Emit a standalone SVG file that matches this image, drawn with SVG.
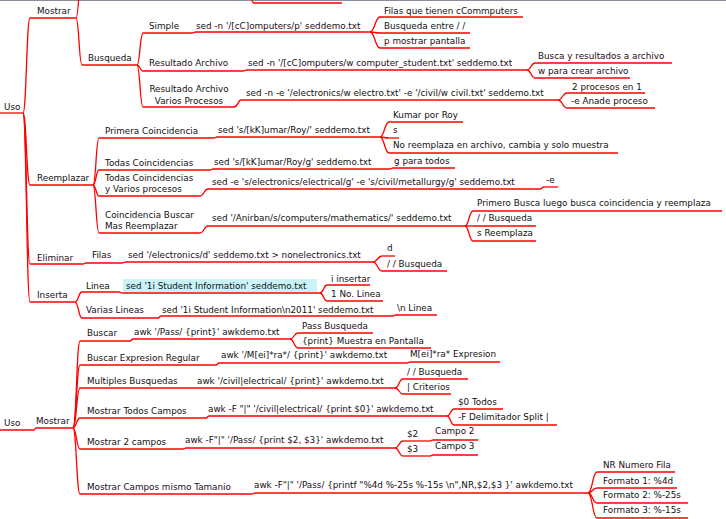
<svg xmlns="http://www.w3.org/2000/svg" width="726" height="519" viewBox="0 0 726 519">
<style>
text{font-family:"DejaVu Sans","Liberation Sans",sans-serif;font-size:8.8px;fill:#111}
.u,.e{fill:none;stroke:#f00;stroke-width:1.3}
.hl{fill:#c9f3f7}
</style>
<rect width="726" height="519" fill="#fff"/>
<line x1="0" y1="0.5" x2="726" y2="0.5" stroke="#8a8a98" stroke-width="1.2"/>
<g id="connectors">
<path class="e" d="M76 18C79 18 79 -30 82 -30"/>
<path class="e" d="M248 -8C251 -8 251 3 254 3H342"/>
<path class="e" d="M23 113C26.5 113 26.5 18 30 18"/>
<path class="e" d="M23 113C26.5 113 26.5 185 30 185"/>
<path class="e" d="M23 113C26.5 113 26.5 264 30 264"/>
<path class="e" d="M23 113C26.5 113 26.5 302 30 302"/>
<path class="e" d="M76 18C79 18 79 65 82 65"/>
<path class="e" d="M137 65C140 65 140 33 143 33"/>
<path class="e" d="M137 65C140 65 140 71 143 71"/>
<path class="e" d="M137 65C140 65 140 107 143 107"/>
<path class="e" d="M192 33C194 33 194 32 196 32"/>
<path class="e" d="M370 32C375 32 375 17 380 17"/>
<path class="e" d="M370 32C375 32 375 33 380 33"/>
<path class="e" d="M370 32C375 32 375 48 380 48"/>
<path class="e" d="M243 71C245 71 245 70 247 70"/>
<path class="e" d="M527 70C531 70 531 63 535 63"/>
<path class="e" d="M527 70C531 70 531 78 535 78"/>
<path class="e" d="M234 107C238 107 238 100 241 100"/>
<path class="e" d="M558 100C562.5 100 562.5 93 567 93"/>
<path class="e" d="M558 100C562.5 100 562.5 108 567 108"/>
<path class="e" d="M93 185C96 185 96 138 99 138"/>
<path class="e" d="M93 185C96 185 96 170 99 170"/>
<path class="e" d="M93 185C96 185 96 196 99 196"/>
<path class="e" d="M93 185C96 185 96 233 99 233"/>
<path class="e" d="M214 138C215.5 138 215.5 137 217 137"/>
<path class="e" d="M380 137C384.5 137 384.5 122 389 122"/>
<path class="e" d="M380 137C384.5 137 384.5 138 389 138"/>
<path class="e" d="M380 137C384.5 137 384.5 153 389 153"/>
<path class="e" d="M210 170C211.5 170 211.5 169 213 169"/>
<path class="e" d="M390 169C391.5 169 391.5 168 393 168"/>
<path class="e" d="M200 196C204 196 204 189 208 189"/>
<path class="e" d="M540 189C542 189 542 187 544 187"/>
<path class="e" d="M200 233C204 233 204 226 208 226"/>
<path class="e" d="M465 226C469 226 469 211 473 211"/>
<path class="e" d="M465 226C469 226 469 226 473 226"/>
<path class="e" d="M465 226C469 226 469 241 473 241"/>
<path class="e" d="M83 264C84.5 264 84.5 263 86 263"/>
<path class="e" d="M122 263C124 263 124 262 126 262"/>
<path class="e" d="M373 262C377.5 262 377.5 256 382 256"/>
<path class="e" d="M373 262C377.5 262 377.5 271 382 271"/>
<path class="e" d="M75 302C78.5 302 78.5 292 82 292"/>
<path class="e" d="M75 302C78.5 302 78.5 318 82 318"/>
<path class="e" d="M119 292C120.5 292 120.5 293 122 293"/>
<path class="e" d="M320 293C323.5 293 323.5 285 327 285"/>
<path class="e" d="M320 293C323.5 293 323.5 301 327 301"/>
<path class="e" d="M158 318C159.5 318 159.5 316 161 316"/>
<path class="e" d="M393 316C394.5 316 394.5 315 396 315"/>
<path class="e" d="M34 430C35 430 35 428 36 428"/>
<path class="e" d="M73 428C76.5 428 76.5 341 80 341"/>
<path class="e" d="M73 428C76.5 428 76.5 365 80 365"/>
<path class="e" d="M73 428C76.5 428 76.5 388 80 388"/>
<path class="e" d="M73 428C76.5 428 76.5 418 80 418"/>
<path class="e" d="M73 428C76.5 428 76.5 449 80 449"/>
<path class="e" d="M73 428C76.5 428 76.5 494 80 494"/>
<path class="e" d="M130 341C131.5 341 131.5 339 133 339"/>
<path class="e" d="M290 339C294 339 294 333 298 333"/>
<path class="e" d="M290 339C294 339 294 348 298 348"/>
<path class="e" d="M216 365C217.5 365 217.5 363 219 363"/>
<path class="e" d="M407 363C408.5 363 408.5 362 410 362"/>
<path class="e" d="M395 388C399 388 399 379 403 379"/>
<path class="e" d="M395 388C399 388 399 394 403 394"/>
<path class="e" d="M206 418C207.5 418 207.5 416 209 416"/>
<path class="e" d="M447 416C450.5 416 450.5 409 454 409"/>
<path class="e" d="M447 416C450.5 416 450.5 425 454 425"/>
<path class="e" d="M183 449C184.5 449 184.5 448 186 448"/>
<path class="e" d="M395 448C399 448 399 441 403 441"/>
<path class="e" d="M395 448C399 448 399 456 403 456"/>
<path class="e" d="M430 441C431.5 441 431.5 440 433 440"/>
<path class="e" d="M430 456C431.5 456 431.5 455 433 455"/>
<path class="e" d="M252 494C253.5 494 253.5 493 255 493"/>
<path class="e" d="M588 493C592.5 493 592.5 472 597 472"/>
<path class="e" d="M588 493C592.5 493 592.5 488 597 488"/>
<path class="e" d="M588 493C592.5 493 592.5 503 597 503"/>
<path class="e" d="M588 493C592.5 493 592.5 518 597 518"/>
</g>
<g id="uso1"><text x="4" y="110">Uso</text><path class="u" d="M0 113H23"/></g>
<g id="mostrar1"><text x="37" y="14">Mostrar</text><path class="u" d="M30 18H76"/></g>
<g id="busqueda"><text x="88" y="61">Busqueda</text><path class="u" d="M82 65H137"/></g>
<g id="simple"><text x="149" y="29">Simple</text><path class="u" d="M143 33H192"/></g>
<g id="sed1"><text x="196" y="29">sed -n '/[cC]omputers/p' seddemo.txt</text><path class="u" d="M196 32H370"/></g>
<g id="sed1a"><text x="384" y="14">Filas que tienen cCommputers</text><path class="u" d="M380 17H523"/></g>
<g id="sed1b"><text x="384" y="29">Busqueda entre / /</text><path class="u" d="M380 33H470"/></g>
<g id="sed1c"><text x="384" y="44">p mostrar pantalla</text><path class="u" d="M380 48H470"/></g>
<g id="resarch"><text x="149" y="66">Resultado Archivo</text><path class="u" d="M143 71H243"/></g>
<g id="sed2"><text x="248" y="66">sed -n '/[cC]omputers/w computer_student.txt' seddemo.txt</text><path class="u" d="M247 70H527"/></g>
<g id="sed2a"><text x="538" y="59">Busca y resultados a archivo</text><path class="u" d="M535 63H672"/></g>
<g id="sed2b"><text x="538" y="74">w para crear archivo</text><path class="u" d="M535 78H630"/></g>
<g id="resvarios"><text x="189" y="92" text-anchor="middle">Resultado Archivo</text><text x="189" y="104" text-anchor="middle">Varios Procesos</text><path class="u" d="M143 107H234"/></g>
<g id="sed3"><text x="246" y="96">sed -n -e '/electronics/w electro.txt' -e '/civil/w civil.txt' seddemo.txt</text><path class="u" d="M241 100H558"/></g>
<g id="sed3a"><text x="572" y="90">2 procesos en 1</text><path class="u" d="M567 93H645"/></g>
<g id="sed3b"><text x="571" y="104">-e Anade proceso</text><path class="u" d="M567 108H655"/></g>
<g id="reemplazar"><text x="37" y="181">Reemplazar</text><path class="u" d="M30 185H93"/></g>
<g id="primera"><text x="105" y="134">Primera Coincidencia</text><path class="u" d="M99 138H214"/></g>
<g id="sed4"><text x="218" y="133">sed 's/[kK]umar/Roy/' seddemo.txt</text><path class="u" d="M217 137H380"/></g>
<g id="sed4a"><text x="393" y="118">Kumar por Roy</text><path class="u" d="M389 122H463"/></g>
<g id="sed4b"><text x="393" y="133">s</text><path class="u" d="M389 138H399"/></g>
<g id="sed4c"><text x="393" y="148">No reemplaza en archivo, cambia y solo muestra</text><path class="u" d="M389 153H618"/></g>
<g id="todas"><text x="105" y="166">Todas Coincidencias</text><path class="u" d="M99 170H210"/></g>
<g id="sed5"><text x="214" y="165">sed 's/[kK]umar/Roy/g' seddemo.txt</text><path class="u" d="M213 169H390"/></g>
<g id="sed5a"><text x="394" y="164">g para todos</text><path class="u" d="M393 168H455"/></g>
<g id="todasvarios"><text x="105" y="181">Todas Coincidencias</text><text x="105" y="192">y Varios procesos</text><path class="u" d="M99 196H200"/></g>
<g id="sed6"><text x="212" y="185">sed -e 's/electronics/electrical/g' -e 's/civil/metallurgy/g' seddemo.txt</text><path class="u" d="M208 189H540"/></g>
<g id="sed6a"><text x="546" y="183">-e</text><path class="u" d="M544 187H558"/></g>
<g id="coinc"><text x="105" y="218">Coincidencia Buscar</text><text x="105" y="229">Mas Reemplazar</text><path class="u" d="M99 233H200"/></g>
<g id="sed7"><text x="212" y="221">sed '/Anirban/s/computers/mathematics/' seddemo.txt</text><path class="u" d="M208 226H465"/></g>
<g id="sed7a"><text x="477" y="206">Primero Busca luego busca coincidencia y reemplaza</text><path class="u" d="M473 211H722"/></g>
<g id="sed7b"><text x="477" y="221">/ / Busqueda</text><path class="u" d="M473 226H536"/></g>
<g id="sed7c"><text x="477" y="236">s Reemplaza</text><path class="u" d="M473 241H536"/></g>
<g id="eliminar"><text x="37" y="261">Eliminar</text><path class="u" d="M30 264H83"/></g>
<g id="filas"><text x="92" y="258">Filas</text><path class="u" d="M86 263H122"/></g>
<g id="sed8"><text x="128" y="258">sed '/electronics/d' seddemo.txt &gt; nonelectronics.txt</text><path class="u" d="M126 262H373"/></g>
<g id="sed8a"><text x="387" y="251">d</text><path class="u" d="M382 256H395"/></g>
<g id="sed8b"><text x="387" y="267">/ / Busqueda</text><path class="u" d="M382 271H447"/></g>
<g id="inserta"><text x="37" y="298">Inserta</text><path class="u" d="M30 302H75"/></g>
<g id="linea"><text x="86" y="289">Linea</text><path class="u" d="M82 292H119"/></g>
<g id="sed9"><rect class="hl" x="123" y="279" width="194" height="13"/><text x="126" y="289">sed '1i Student Information' seddemo.txt</text><path class="u" d="M122 293H320"/></g>
<g id="sed9a"><text x="331" y="282">i insertar</text><path class="u" d="M327 285H370"/></g>
<g id="sed9b"><text x="331" y="297">1 No. Linea</text><path class="u" d="M327 301H383"/></g>
<g id="varias"><text x="86" y="313">Varias Lineas</text><path class="u" d="M82 318H158"/></g>
<g id="sed10"><text x="162" y="313">sed '1i Student Information\n2011' seddemo.txt</text><path class="u" d="M161 316H393"/></g>
<g id="sed10a"><text x="397" y="311">\n Linea</text><path class="u" d="M396 315H437"/></g>
<g id="uso2"><text x="4" y="426">Uso</text><path class="u" d="M0 430H34"/></g>
<g id="mostrar2"><text x="36" y="424">Mostrar</text><path class="u" d="M36 428H73"/></g>
<g id="buscar"><text x="87" y="336">Buscar</text><path class="u" d="M80 341H130"/></g>
<g id="awk1"><text x="134" y="335">awk '/Pass/ {print}' awkdemo.txt</text><path class="u" d="M133 339H290"/></g>
<g id="awk1a"><text x="302" y="329">Pass Busqueda</text><path class="u" d="M298 333H373"/></g>
<g id="awk1b"><text x="302" y="344">{print} Muestra en Pantalla</text><path class="u" d="M298 348H431"/></g>
<g id="buscarexp"><text x="87" y="361">Buscar Expresion Regular</text><path class="u" d="M80 365H216"/></g>
<g id="awk2"><text x="221" y="358">awk '/M[ei]*ra*/ {print}' awkdemo.txt</text><path class="u" d="M219 363H407"/></g>
<g id="awk2a"><text x="410" y="357">M[ei]*ra* Expresion</text><path class="u" d="M410 362H500"/></g>
<g id="multiples"><text x="87" y="384">Multiples Busquedas</text><path class="u" d="M80 388H195"/></g>
<g id="awk3"><text x="197" y="384">awk '/civil|electrical/ {print}' awkdemo.txt</text><path class="u" d="M195 388H395"/></g>
<g id="awk3a"><text x="407" y="375">/ / Busqueda</text><path class="u" d="M403 379H468"/></g>
<g id="awk3b"><text x="407" y="390">| Criterios</text><path class="u" d="M403 394H451"/></g>
<g id="todoscampos"><text x="87" y="414">Mostrar Todos Campos</text><path class="u" d="M80 418H206"/></g>
<g id="awk4"><text x="208" y="412">awk -F "|" '/civil|electrical/ {print $0}' awkdemo.txt</text><path class="u" d="M209 416H447"/></g>
<g id="awk4a"><text x="458" y="405">$0 Todos</text><path class="u" d="M454 409H503"/></g>
<g id="awk4b"><text x="458" y="420">-F Delimitador Split |</text><path class="u" d="M454 425H557"/></g>
<g id="doscampos"><text x="87" y="445">Mostrar 2 campos</text><path class="u" d="M80 449H183"/></g>
<g id="awk5"><text x="185" y="443">awk -F"|" '/Pass/ {print $2, $3}' awkdemo.txt</text><path class="u" d="M186 448H395"/></g>
<g id="awk5a"><text x="407" y="437">$2</text><path class="u" d="M403 441H430"/></g>
<g id="awk5a1"><text x="435" y="434">Campo 2</text><path class="u" d="M433 440H478"/></g>
<g id="awk5b"><text x="407" y="452">$3</text><path class="u" d="M403 456H430"/></g>
<g id="awk5b1"><text x="435" y="449">Campo 3</text><path class="u" d="M433 455H478"/></g>
<g id="mismotam"><text x="87" y="490">Mostrar Campos mismo Tamanio</text><path class="u" d="M80 494H252"/></g>
<g id="awk6"><text x="254" y="488">awk -F"|" '/Pass/ {printf "%4d %-25s %-15s \n",NR,$2,$3 }' awkdemo.txt</text><path class="u" d="M255 493H588"/></g>
<g id="awk6a"><text x="603" y="468">NR Numero Fila</text><path class="u" d="M597 472H675"/></g>
<g id="awk6b"><text x="603" y="484">Formato 1: %4d</text><path class="u" d="M597 488H677"/></g>
<g id="awk6c"><text x="603" y="498">Formato 2: %-25s</text><path class="u" d="M597 503H688"/></g>
<g id="awk6d"><text x="603" y="513">Formato 3: %-15s</text><path class="u" d="M597 518H688"/></g>
</svg>
